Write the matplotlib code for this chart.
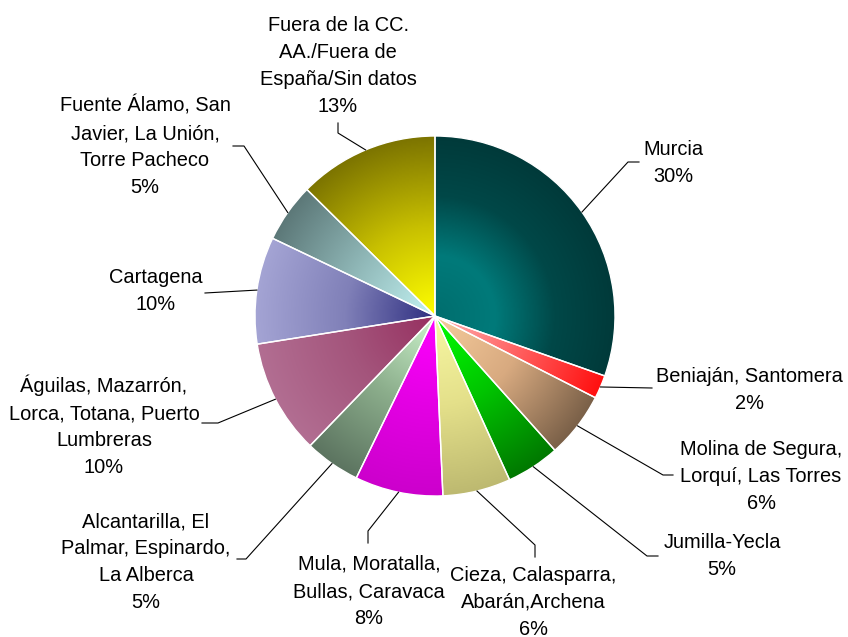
import numpy as np
import matplotlib
matplotlib.use('Agg')
import matplotlib.pyplot as plt
from matplotlib.colors import LinearSegmentedColormap

plt.rcParams['font.family'] = ['Liberation Sans', 'DejaVu Sans']

# Data: share of each area (%), clockwise from 12 o'clock.

regiones = ['Murcia',
            'Beniaján, Santomera',
            'Molina de Segura,\nLorquí, Las Torres',
            'Jumilla-Yecla',
            'Cieza, Calasparra,\nAbarán,Archena',
            'Mula, Moratalla,\nBullas, Caravaca',
            'Alcantarilla, El\nPalmar, Espinardo,\nLa Alberca',
            'Águilas, Mazarrón,\nLorca, Totana, Puerto\nLumbreras',
            'Cartagena',
            'Fuente Álamo, San\nJavier, La Unión,\nTorre Pacheco',
            'Fuera de la CC.\nAA./Fuera de\nEspaña/Sin datos']
porcentajes = [30.4, 2.1, 5.9, 4.8, 6.1, 7.9, 5.0, 10.3, 9.6, 5.3, 12.6]

# Gradient stops for every slice, from the centre of the pie to the rim.

gradientes = [['#006e6e', '#007a7a', '#004848', '#003a3a'],
              ['#ffb4b4', '#ff6060', '#ff1010'],
              ['#f6cc9c', '#d8aa80', '#7a6048'],
              ['#00ff00', '#00c400', '#007800'],
              ['#f8f8a4', '#e4e08a', '#bdb970'],
              ['#ff00ff', '#e400e4', '#cc00cc'],
              ['#ccf4cc', '#8cae8c', '#5c7460'],
              ['#963060', '#a4557c', '#b26e92'],
              ['#2e2e80', '#8080b8', '#a4a4d4'],
              ['#c4f4f4', '#90b8b8', '#5c7878'],
              ['#ffff00', '#c8c000', '#7c7400']]

# Layout in pixels (y measured from the top): label centre x and first baseline,
# and the elbow points of each leader line on the label side.

W, H = 848, 637
cx, cy, R = 435, 316, 180
pos_texto = [(673, 155), (749, 382), (761, 455), (722, 548), (533, 581), (369, 570),
             (146, 527), (104, 392), (156, 283), (145, 112), (338, 31)]
codos = [[(639, 162), (628, 162)],
         [(652, 388)],
         [(673, 475), (663, 475)],
         [(658, 556), (647, 556)],
         [(535, 557), (535, 545)],
         [(368, 543), (368, 531)],
         [(237, 559), (246, 559)],
         [(202, 423), (218, 423)],
         [(205, 293)],
         [(233, 146), (244, 146)],
         [(338, 123), (338, 133)]]
interlinea = 27

fig = plt.figure(figsize=(W / 100, H / 100), dpi=100)
ax = fig.add_axes([0, 0, 1, 1])

wedges, _ = ax.pie(porcentajes, startangle=90, counterclock=False, radius=R, center=(cx, H - cy),
                   wedgeprops=dict(edgecolor='white', linewidth=1, facecolor='none', zorder=3))

# radial gradient fill, clipped to each wedge
yy, xx = np.mgrid[-1:1:500j, -1:1:500j]
rr = np.clip(np.hypot(xx, yy), 0, 1)
for w, stops in zip(wedges, gradientes):
    cmap = LinearSegmentedColormap.from_list('g', stops)
    im = ax.imshow(rr, cmap=cmap, vmin=0, vmax=1, origin='lower', interpolation='bilinear',
                   extent=(cx - R, cx + R, H - cy - R, H - cy + R), zorder=1)
    im.set_clip_path(w)

# labels and leader lines
for w, nombre, p, (tx, ty), pts in zip(wedges, regiones, porcentajes, pos_texto, codos):
    lineas = nombre.split('\n') + ['%d%%' % round(p)]
    for i, s in enumerate(lineas):
        ax.text(tx, H - (ty + i * interlinea), s, ha='center', va='baseline', fontsize=14.4, color='black')
    ang = np.deg2rad((w.theta1 + w.theta2) / 2)
    ex, ey = cx + R * np.cos(ang), (H - cy) + R * np.sin(ang)
    xs = [q[0] for q in pts] + [ex]
    ys = [H - q[1] for q in pts] + [ey]
    ax.plot(xs, ys, color='black', linewidth=0.8, zorder=4)

ax.set_xlim(0, W)
ax.set_ylim(0, H)
ax.set_aspect('equal')
ax.axis('off')

plt.savefig('out.png', dpi=100)
